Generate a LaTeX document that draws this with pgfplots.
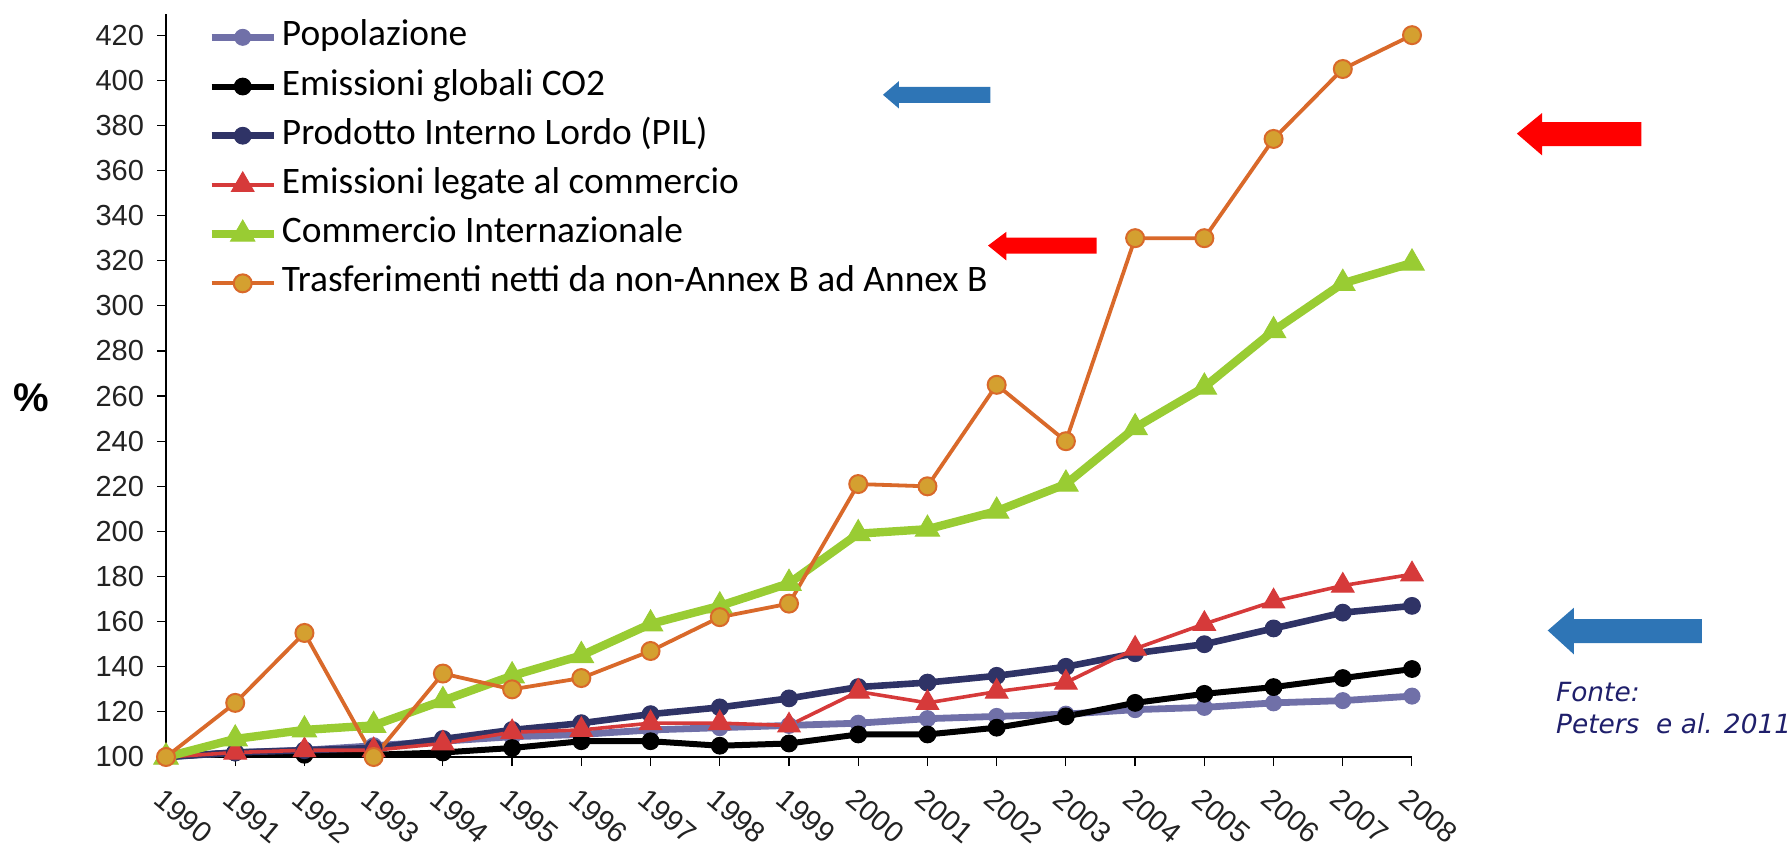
\documentclass[border=0pt]{standalone}
\usepackage{fontspec}
\usepackage{pgfplots}
\pgfplotsset{compat=1.18}
\newfontfamily\carlito{Carlito}
\newfontfamily\libsans{Liberation Sans}
\newfontfamily\dejavu{DejaVu Sans}
\definecolor{popcol}{HTML}{7070A8}
\definecolor{pilcol}{HTML}{2F3366}
\definecolor{redcol}{HTML}{D63A3A}
\definecolor{greencol}{HTML}{99CC33}
\definecolor{orangeline}{HTML}{D9692A}
\definecolor{orangefill}{HTML}{D4A030}
\definecolor{tickgray}{HTML}{222222}
\definecolor{fontecol}{HTML}{1F1F6B}
\definecolor{arrblue}{HTML}{2E75B6}
\definecolor{arrred}{HTML}{FF0000}
\begin{document}
\begin{tikzpicture}
\path[use as bounding box] (0,0) rectangle (895.5pt,424pt);
\begin{axis}[
  at={(83pt,45.5pt)}, anchor=south west,
  scale only axis, width=623pt, height=371.4pt,
  xmin=1990, xmax=2008, ymin=100, ymax=429.3,
  axis x line*=bottom, axis y line*=left,
  xtick={1990,...,2008}, ytick={100,120,...,420},
  tick align=outside, major tick length=4.5pt,
  every tick/.style={black, line width=0.6pt},
  axis line style={black, line width=0.8pt},
  /pgf/number format/assume math mode=true,
  /pgf/number format/1000 sep={},
  ticklabel style={font=\libsans\fontsize{14.5}{16}\selectfont, text=tickgray},
  yticklabel style={xshift=-3pt},
  xticklabel style={rotate=-40, anchor=north west, xshift=3pt, yshift=-5pt},
  clip=false,
  legend cell align=left,
  legend image code/.code={\draw[mark repeat=2,mark phase=2,#1] plot coordinates {(0pt,0pt) (15.5pt,0pt) (31pt,0pt)};},
  legend style={at={(axis description cs:0.033,0.997)}, anchor=north west, draw=none, fill=none,
    inner sep=0pt, font=\carlito\fontsize{18.7}{21}\selectfont, row sep=4.1pt,
    nodes={inner sep=2pt, text height=12.5pt, text depth=4pt}},
]
\addplot[popcol, line width=3.4pt, mark=*, mark size=4pt, mark options={fill=popcol, draw=popcol, line width=0.5pt}] coordinates {
(1990,100) (1991,102) (1992,103) (1993,105) (1994,107) (1995,109) (1996,110) (1997,112) (1998,113) (1999,114)
(2000,115) (2001,117) (2002,118) (2003,119) (2004,121) (2005,122) (2006,124) (2007,125) (2008,127)};
\addlegendentry{Popolazione}
\addplot[black, line width=3pt, mark=*, mark size=4.2pt, mark options={fill=black, line width=0.5pt}] coordinates {
(1990,100) (1991,102) (1992,101) (1993,101) (1994,102) (1995,104) (1996,107) (1997,107) (1998,105) (1999,106)
(2000,110) (2001,110) (2002,113) (2003,118) (2004,124) (2005,128) (2006,131) (2007,135) (2008,139)};
\addlegendentry{Emissioni globali CO2}
\addplot[pilcol, line width=3.3pt, mark=*, mark size=4.2pt, mark options={fill=pilcol, draw=pilcol, line width=0.5pt}] coordinates {
(1990,100) (1991,102) (1992,103) (1993,104) (1994,108) (1995,112) (1996,115) (1997,119) (1998,122) (1999,126)
(2000,131) (2001,133) (2002,136) (2003,140) (2004,146) (2005,150) (2006,157) (2007,164) (2008,167)};
\addlegendentry{Prodotto Interno Lordo (PIL)}
\addplot[redcol, line width=1.8pt, mark=triangle*, mark size=6.5pt, mark options={fill=redcol, draw=redcol, line width=0.5pt}] coordinates {
(1990,100) (1991,102) (1992,103) (1993,103) (1994,106) (1995,111) (1996,112) (1997,115) (1998,115) (1999,114)
(2000,129) (2001,124) (2002,129) (2003,133) (2004,148) (2005,159) (2006,169) (2007,176) (2008,181)};
\addlegendentry{Emissioni legate al commercio}
\addplot[greencol, line width=4.2pt, mark=triangle*, mark size=7pt, mark options={fill=greencol, draw=greencol, line width=0.5pt}] coordinates {
(1990,100) (1991,108) (1992,112) (1993,114) (1994,125) (1995,136) (1996,145) (1997,159) (1998,167) (1999,177)
(2000,199) (2001,201) (2002,209) (2003,221) (2004,246) (2005,264) (2006,289) (2007,310) (2008,319)};
\addlegendentry{Commercio Internazionale}
\addplot[orangeline, line width=1.9pt, mark=*, mark size=4.5pt, mark options={fill=orangefill, draw=orangeline, line width=1pt}] coordinates {
(1990,100) (1991,124) (1992,155) (1993,100) (1994,137) (1995,130) (1996,135) (1997,147) (1998,162) (1999,168)
(2000,221) (2001,220) (2002,265) (2003,240) (2004,330) (2005,330) (2006,374) (2007,405) (2008,420)};
\addlegendentry{Trasferimenti netti da non-Annex B ad Annex B}
\end{axis}
% annotations in reference pixel units (shrunk 1568x742 frame)
\begin{scope}[shift={(0,424pt)}, x=0.5711pt, y=-0.5711pt]
\fill[arrblue] (773,83) -- (787,71) -- (787,76) -- (867,76) -- (867,90) -- (787,90) -- (787,95) -- cycle;
\fill[arrred] (865,215) -- (881,203) -- (881,208) -- (960,208) -- (960,222) -- (881,222) -- (881,228) -- cycle;
\fill[arrred] (1328,117) -- (1350,99) -- (1350,107) -- (1437,107) -- (1437,128) -- (1350,128) -- (1350,136) -- cycle;
\fill[arrblue] (1355,552) -- (1378,532) -- (1378,542) -- (1490,542) -- (1490,563) -- (1378,563) -- (1378,573) -- cycle;
\node[font=\libsans\bfseries\fontsize{20}{22}\selectfont, anchor=center] at (27,348) {\%};
\node[font=\dejavu\itshape\fontsize{13.2}{15}\selectfont, text=fontecol, anchor=base west, inner sep=0pt] at (1362,614) {Fonte:};
\node[font=\dejavu\itshape\fontsize{13.2}{15}\selectfont, text=fontecol, anchor=base west, inner sep=0pt] at (1362,642) {Peters\ \ e al. 2011};
\end{scope}
\end{tikzpicture}
\end{document}
